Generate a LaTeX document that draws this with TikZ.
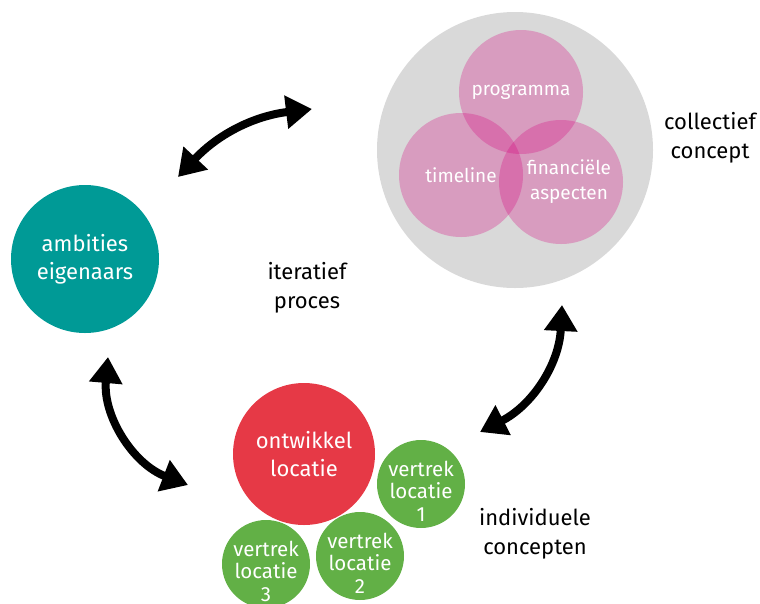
\documentclass[tikz,border=0pt]{standalone}
\usepackage{fontspec}
\setmainfont{Fira Sans}
\usepackage{xcolor}
\usetikzlibrary{arrows.meta}
\usetikzlibrary{positioning}

\definecolor{conceptgray}{RGB}{217,217,217}
\definecolor{vennpink}{RGB}{214,0,125}
\definecolor{ownerteal}{RGB}{0,154,150}
\definecolor{devred}{RGB}{230,57,70}
\definecolor{leavegreen}{RGB}{98,176,70}

\begin{document}
\begin{tikzpicture}[x=1pt,y=-1pt]
\tikzset{
bubble/.style={circle, inner sep=0pt, align=center, text=white},
pinkbubble/.style={bubble, fill=vennpink, fill opacity=0.28, text opacity=1,
    minimum size=124pt, font=\fontsize{19}{25}\selectfont},
bigbubble/.style={bubble, font=\fontsize{22}{28}\selectfont},
greenbubble/.style={bubble, fill=leavegreen, minimum size=88pt},
greentext/.style={align=center, text=white, inner sep=0pt, yshift=-7pt,
    font=\fontsize{20.5}{22.5}\selectfont},
caption/.style={align=center, text=black, font=\fontsize{22}{29}\selectfont},
looparrow/.style={line width=8pt,
    {Triangle[length=26pt,width=32pt]}-{Triangle[length=26pt,width=32pt]}}
}
\useasboundingbox (0,0) rectangle (760,603);

% collectief concept
\node[circle, fill=conceptgray, minimum size=276pt] (collective) at (515,150) {};
\node[pinkbubble] (programma) at (521,92) {programma};
\node[pinkbubble] (timeline) at (461,175) {timeline};
\node[pinkbubble] (finance) at (561,182) {\hspace*{16pt}financiële\\\hspace*{16pt}aspecten};
\node[caption] (collabel) at (710,138) {collectief\\concept};

% ambities
\node[bigbubble, fill=ownerteal, minimum size=148pt] (owners) at (85,259) {ambities\\eigenaars};
\node[caption] (iterlabel) at (307,288) {iteratief\\proces};

% individuele concepten
\node[bigbubble, fill=devred, minimum size=142pt] (develop) at (304,454) {ontwikkel\\locatie};
\node[greenbubble] (leave1) at (421,484) {};
\node[greenbubble] (leave2) at (360,556) {};
\node[greenbubble] (leave3) at (266,564) {};
\node[greentext] (leave1text) at (leave1) {vertrek\\locatie\\1};
\node[greentext] (leave2text) at (leave2) {vertrek\\locatie\\2};
\node[greentext] (leave3text) at (leave3) {vertrek\\locatie\\3};
\node[caption] (indlabel) at (535,534) {individuele\\concepten};

% arrows
\coordinate (topL) at (178,177);
\coordinate (topR) at (312,109);
\coordinate (leftT) at (108,357);
\coordinate (leftB) at (188,485);
\coordinate (rightB) at (480,432);
\coordinate (rightT) at (562,305);
\draw[looparrow] (topL) to[bend left=20] (topR);
\draw[looparrow] (leftT) to[bend right=37] (leftB);
\draw[looparrow] (rightB) to[bend right=30] (rightT);
\end{tikzpicture}
\end{document}
